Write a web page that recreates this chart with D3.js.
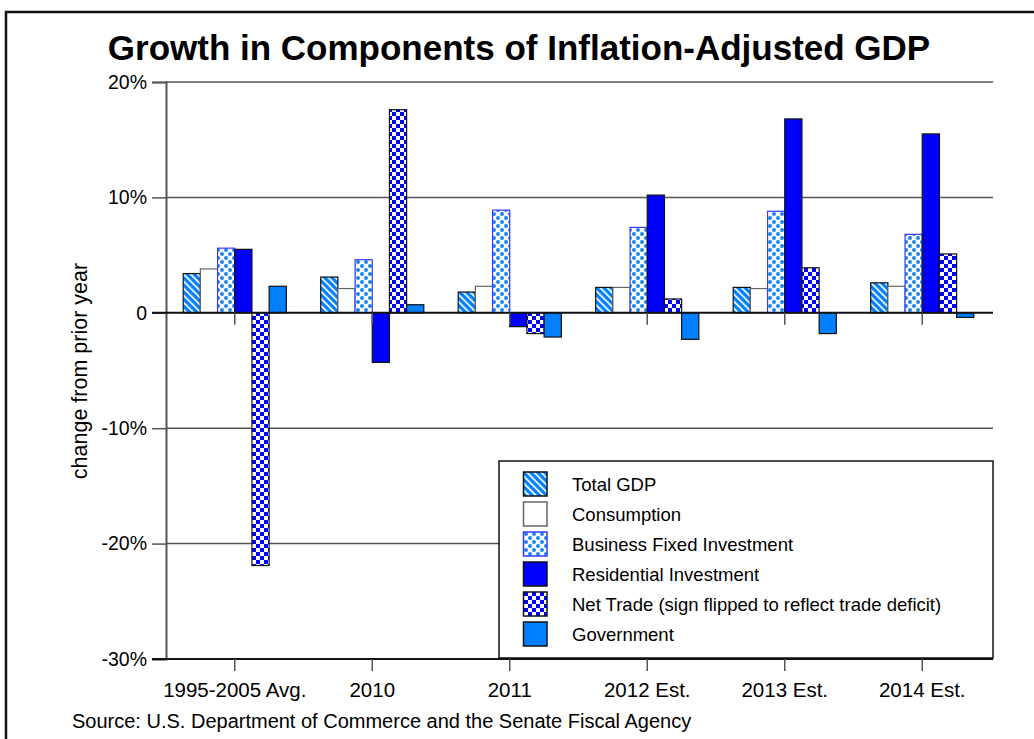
<!DOCTYPE html>
<html>
<head>
<meta charset="utf-8">
<script src="https://cdn.jsdelivr.net/npm/d3@7"></script>
<style>
  html, body { margin: 0; padding: 0; background: #fff; }
  svg { display: block; font-family: "Liberation Sans", Arial, sans-serif; }
</style>
</head>
<body>
<svg id="chart" width="1034" height="739"></svg>
<script>
// ---- data ----
const categories = ["1995-2005 Avg.", "2010", "2011", "2012 Est.", "2013 Est.", "2014 Est."];
const seriesNames = ["Total GDP", "Consumption", "Business Fixed Investment", "Residential Investment",
                     "Net Trade (sign flipped to reflect trade deficit)", "Government"];
const totalGDP    = [3.4, 3.1, 1.8, 2.2, 2.2, 2.6];
const consumption = [3.8, 2.1, 2.3, 2.2, 2.1, 2.3];
const businessFixedInvestment = [5.6, 4.6, 8.9, 7.4, 8.8, 6.8];
const residentialInvestment   = [5.5, -4.3, -1.2, 10.2, 16.8, 15.5];
const netTrade    = [-21.9, 17.6, -1.8, 1.2, 3.9, 5.1];
const government  = [2.3, 0.7, -2.1, -2.3, -1.8, -0.4];
const yTicks = [-30, -20, -10, 0, 10, 20];

const seriesValues = [totalGDP, consumption, businessFixedInvestment, residentialInvestment, netTrade, government];

const svg = d3.select("#chart");
const W = 1034, H = 739;
svg.append("rect").attr("width", W).attr("height", H).attr("fill", "#fff");

// ---- patterns ----
const defs = svg.append("defs");
const LB = "#0080ff", DB = "#0000ff";

const stripe = defs.append("pattern").attr("id", "pStripe").attr("patternUnits", "userSpaceOnUse")
  .attr("width", 5).attr("height", 5).attr("patternTransform", "rotate(-45)");
stripe.append("rect").attr("width", 5).attr("height", 5).attr("fill", LB);
stripe.append("rect").attr("x", 0).attr("width", 1.7).attr("height", 5).attr("fill", "#fff");

const dots = defs.append("pattern").attr("id", "pDots").attr("patternUnits", "userSpaceOnUse")
  .attr("width", 8).attr("height", 8);
dots.append("rect").attr("width", 8).attr("height", 8).attr("fill", "#fff");
dots.append("circle").attr("cx", 2).attr("cy", 2).attr("r", 2).attr("fill", "#1a86f5");
dots.append("circle").attr("cx", 6).attr("cy", 6).attr("r", 2).attr("fill", "#1a86f5");

const check = defs.append("pattern").attr("id", "pCheck").attr("patternUnits", "userSpaceOnUse")
  .attr("width", 8).attr("height", 8);
check.append("rect").attr("width", 8).attr("height", 8).attr("fill", "#fff");
check.append("rect").attr("width", 4).attr("height", 4).attr("fill", DB);
check.append("rect").attr("x", 4).attr("y", 4).attr("width", 4).attr("height", 4).attr("fill", DB);

const fills   = ["url(#pStripe)", "#fff", "url(#pDots)", DB, "url(#pCheck)", LB];
const strokes = ["#111", "#666", "#3a3aff", "#111", "#111", "#111"];

// ---- frame ----
svg.append("path").attr("d", `M6,${H} L6,12 L${W},12`).attr("fill", "none")
  .attr("stroke", "#111").attr("stroke-width", 2.5);

// ---- title ----
svg.append("text").attr("x", 519).attr("y", 60).attr("text-anchor", "middle")
  .attr("font-weight", "bold").attr("font-size", 35).attr("fill", "#000")
  .text("Growth in Components of Inflation-Adjusted GDP");

// ---- scales ----
const plotL = 166, plotR = 991, gridR = 993;
const x = d3.scaleBand().domain(categories).range([plotL, plotR]).padding(0);
const inner = d3.scaleBand().domain(d3.range(seriesNames.length))
  .range([0, x.bandwidth() * 0.75]);
const groupOffset = x.bandwidth() * 0.125;
const y = d3.scaleLinear().domain([-30, 20]).range([659, 82]);

// ---- gridlines ----
svg.append("g").selectAll("line").data(yTicks.filter(t => t !== 0 && t !== -30)).join("line")
  .attr("x1", plotL).attr("x2", gridR).attr("y1", d => y(d)).attr("y2", d => y(d))
  .attr("stroke", "#555").attr("stroke-width", 1.5);

// ---- y axis ----
const yAxis = svg.append("g").attr("transform", `translate(${plotL},0)`)
  .call(d3.axisLeft(y).tickValues(yTicks).tickSize(14).tickPadding(5)
    .tickFormat(d => d === 0 ? "0" : d + "%"));
yAxis.select(".domain").attr("stroke", "#555").attr("stroke-width", 2);
yAxis.selectAll(".tick line").attr("stroke", "#555").attr("stroke-width", 1.5);
yAxis.selectAll(".tick text").attr("font-size", 19.5).attr("fill", "#000")
  .attr("font-family", "'Liberation Sans', Arial, sans-serif");

svg.append("text").attr("transform", "translate(87,371) rotate(-90)")
  .attr("text-anchor", "middle").attr("font-size", 21.5).attr("fill", "#000")
  .text("change from prior year");

// ---- bars ----
const barData = [];
categories.forEach((c, i) => {
  seriesValues.forEach((vals, s) => barData.push({ c, s, v: vals[i] }));
});

// ---- bottom axis line ----
svg.append("line").attr("x1", plotL - 14).attr("x2", gridR).attr("y1", y(-30)).attr("y2", y(-30))
  .attr("stroke", "#111").attr("stroke-width", 2);
svg.append("g").selectAll("line").data(categories).join("line")
  .attr("x1", d => x(d) + x.bandwidth() / 2).attr("x2", d => x(d) + x.bandwidth() / 2)
  .attr("y1", y(-30)).attr("y2", y(-30) + 12).attr("stroke", "#555").attr("stroke-width", 1.5);

svg.append("g").selectAll("text").data(categories).join("text")
  .attr("x", d => x(d) + x.bandwidth() / 2).attr("y", 697)
  .attr("text-anchor", "middle").attr("font-size", 20.5).attr("fill", "#000").text(d => d);

// ---- legend ----
const lg = svg.append("g");
lg.append("rect").attr("x", 499).attr("y", 461).attr("width", 494).attr("height", 197)
  .attr("fill", "#fff").attr("stroke", "#111").attr("stroke-width", 1.5);
const rows = lg.selectAll("g.row").data(seriesNames).join("g").attr("class", "row")
  .attr("transform", (d, i) => `translate(0,${484 + i * 30})`);
rows.append("rect").attr("x", 523.5).attr("y", -12).attr("width", 23.5).attr("height", 24)
  .attr("fill", (d, i) => fills[i]).attr("stroke", (d, i) => strokes[i]).attr("stroke-width", 1.5);
rows.append("text").attr("x", 572).attr("y", 6.5).attr("font-size", 18.5).attr("fill", "#000")
  .text(d => d);

// bars
svg.append("g").selectAll("rect").data(barData).join("rect")
  .attr("x", d => x(d.c) + groupOffset + inner(d.s))
  .attr("width", inner.bandwidth())
  .attr("y", d => y(Math.max(0, d.v)))
  .attr("height", d => Math.abs(y(d.v) - y(0)))
  .attr("fill", d => fills[d.s])
  .attr("stroke", d => strokes[d.s])
  .attr("stroke-width", 1.2);

// ---- zero line ----
const zg = svg.append("g").attr("class", "zero");
zg.append("line").attr("x1", plotL - 14).attr("x2", gridR).attr("y1", y(0)).attr("y2", y(0))
  .attr("stroke", "#111").attr("stroke-width", 2);
zg.selectAll("line.t").data(categories).join("line").attr("class", "t")
  .attr("x1", d => x(d) + x.bandwidth() / 2).attr("x2", d => x(d) + x.bandwidth() / 2)
  .attr("y1", y(0)).attr("y2", y(0) + 12).attr("stroke", "#555").attr("stroke-width", 1.5);

// ---- source ----
svg.append("text").attr("x", 72).attr("y", 728).attr("font-size", 20).attr("fill", "#000")
  .text("Source: U.S. Department of Commerce and the Senate Fiscal Agency");
</script>
</body>
</html>
